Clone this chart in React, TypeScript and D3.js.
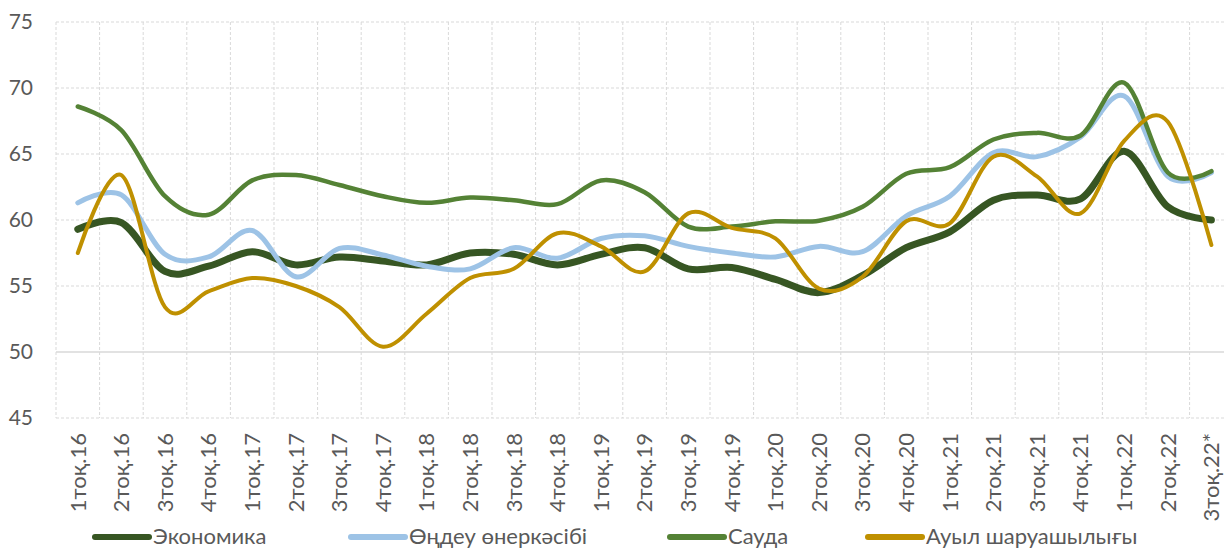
import React, { useEffect, useRef } from 'react'
import * as d3 from 'd3'

const categories = [
  '1тоқ.16', '2тоқ.16', '3тоқ.16', '4тоқ.16',
  '1тоқ.17', '2тоқ.17', '3тоқ.17', '4тоқ.17',
  '1тоқ.18', '2тоқ.18', '3тоқ.18', '4тоқ.18',
  '1тоқ.19', '2тоқ.19', '3тоқ.19', '4тоқ.19',
  '1тоқ.20', '2тоқ.20', '3тоқ.20', '4тоқ.20',
  '1тоқ.21', '2тоқ.21', '3тоқ.21', '4тоқ.21',
  '1тоқ.22', '2тоқ.22', '3тоқ.22*'
]

const economy = [
  59.3, 59.8, 56.1, 56.5, 57.6, 56.6, 57.2, 56.9, 56.6, 57.5, 57.4, 56.6, 57.4, 57.9,
  56.3, 56.4, 55.5, 54.5, 55.8, 57.9, 59.1, 61.5, 61.9, 61.6, 65.2, 61.0, 60.0
]
const manufacturing = [
  61.3, 61.9, 57.4, 57.2, 59.2, 55.7, 57.85, 57.35, 56.5, 56.3, 57.9, 57.1, 58.6, 58.8,
  58.0, 57.5, 57.2, 58.0, 57.6, 60.3, 61.8, 65.1, 64.8, 66.3, 69.4, 63.3, 63.6
]
const trade = [
  68.6, 66.8, 61.8, 60.4, 63.0, 63.4, 62.65, 61.8, 61.3, 61.7, 61.5, 61.2, 63.0, 62.1,
  59.5, 59.5, 59.9, 59.95, 61.0, 63.5, 64.0, 66.1, 66.6, 66.4, 70.4, 63.6, 63.7
]
const agriculture = [
  57.5, 63.4, 53.4, 54.6, 55.6, 55.0, 53.4, 50.4, 52.9, 55.6, 56.3, 59.0, 58.0, 56.1,
  60.5, 59.4, 58.6, 54.8, 55.7, 59.9, 59.75, 64.8, 63.3, 60.5, 66.0, 67.45, 58.1
]

const seriesNames = ['Экономика', 'Өңдеу өнеркәсібі', 'Сауда', 'Ауыл шаруашылығы']
const seriesColors = ['#375623', '#9dc3e6', '#548235', '#bf9000']
const seriesWidths = [7, 5, 4.5, 4]
const yTicks = [45, 50, 55, 60, 65, 70, 75]

const FONT = "Lato, 'Noto Sans', sans-serif"

function App() {
  const ref = useRef<SVGSVGElement | null>(null)

  useEffect(() => {
    const svg = d3.select(ref.current)
    svg.selectAll('*').remove()

    const left = 56
    const step = 43.6
    const x = d3.scaleBand()
      .domain(categories)
      .range([left, left + step * categories.length])
      .padding(0)
    const y = d3.scaleLinear().domain([45, 75]).range([418, 22])
    const cx = (c: string) => (x(c) as number) + x.bandwidth() / 2

    // grid
    const grid = svg.append('g')
    yTicks.forEach(t => {
      grid.append('line')
        .attr('x1', left).attr('x2', x.range()[1])
        .attr('y1', y(t)).attr('y2', y(t))
        .attr('stroke', '#d9d9d9')
        .attr('stroke-width', t === 50 ? 1.5 : 1)
        .attr('stroke-dasharray', t === 50 ? null : '3,2')
    })
    const bounds = categories.map(c => x(c) as number).concat([x.range()[1]])
    bounds.forEach(b => {
      grid.append('line')
        .attr('x1', b).attr('x2', b)
        .attr('y1', y(75)).attr('y2', y(45))
        .attr('stroke', '#d9d9d9')
        .attr('stroke-dasharray', '3,2')
    })

    // y labels
    svg.append('g').selectAll('text')
      .data(yTicks)
      .join('text')
      .attr('x', 33)
      .attr('y', d => y(d))
      .attr('dy', '0.35em')
      .attr('text-anchor', 'end')
      .attr('font-family', FONT)
      .attr('font-size', 21)
      .attr('fill', '#595959')
      .text(d => d)

    // x labels
    svg.append('g').selectAll('text')
      .data(categories)
      .join('text')
      .attr('transform', d => `translate(${cx(d)},433) rotate(-90)`)
      .attr('dy', '0.35em')
      .attr('text-anchor', 'end')
      .attr('font-family', FONT)
      .attr('font-size', 22)
      .attr('fill', '#595959')
      .text(d => d)

    // series
    const data = [economy, manufacturing, trade, agriculture]
    const line = d3.line<number>()
      .x((d, i) => cx(categories[i]))
      .y(d => y(d))
      .curve(d3.curveCardinal.tension(0))

    svg.append('g').selectAll('path')
      .data(data)
      .join('path')
      .attr('fill', 'none')
      .attr('stroke', (d, i) => seriesColors[i])
      .attr('stroke-width', (d, i) => seriesWidths[i])
      .attr('stroke-linecap', 'round')
      .attr('stroke-linejoin', 'round')
      .attr('d', d => line(d))

    // legend
    const legendX = [95, 351, 670, 868]
    const lg = svg.append('g')
    seriesNames.forEach((name, i) => {
      lg.append('line')
        .attr('x1', legendX[i]).attr('x2', legendX[i] + 54)
        .attr('y1', 537).attr('y2', 537)
        .attr('stroke', seriesColors[i])
        .attr('stroke-width', 6)
        .attr('stroke-linecap', 'round')
      lg.append('text')
        .attr('x', legendX[i] + 58)
        .attr('y', 544)
        .attr('font-family', FONT)
        .attr('font-size', 22)
        .attr('fill', '#595959')
        .text(name)
    })
  }, [])

  return (
    <svg
      ref={ref}
      width={1224}
      height={548}
      style={{ position: 'absolute', left: 0, top: 0, background: '#fff' }}
    />
  )
}

export default App
